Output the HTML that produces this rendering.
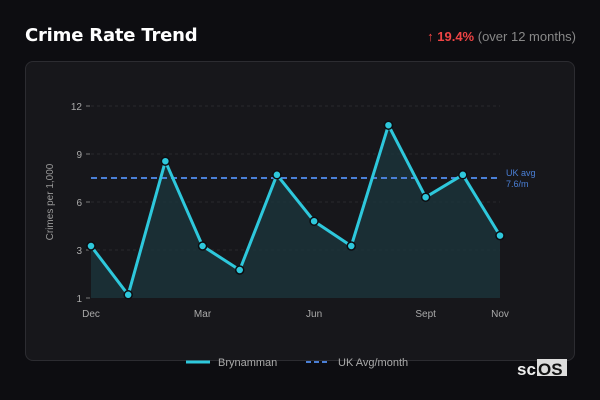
<!DOCTYPE html>
<html><head><meta charset="utf-8"><style>
body{margin:0;width:600px;height:400px;background:#0d0d11;font-family:"Liberation Sans",sans-serif;overflow:hidden;position:relative}
.t{position:absolute;left:25px;top:25px;color:#fff;font-size:18px;font-weight:bold;font-family:"DejaVu Sans",sans-serif;letter-spacing:-0.2px}
.ch{position:absolute;right:24px;top:29px;font-size:13px;color:#888}
.panel{position:absolute;left:25px;top:61px;width:550px;height:300px;border:1px solid #2c2c31;border-radius:8px;background:#17171b;box-sizing:border-box}
svg{position:absolute;left:0;top:0}
</style></head><body>
<div class="t">Crime Rate Trend</div>
<div class="ch"><span style="color:#ef4444;font-weight:bold">↑ 19.4%</span> (over 12 months)</div>
<div class="panel"></div>
<svg width="600" height="400" id="c"></svg>
<script>
const months=["Dec","Jan","Feb","Mar","Apr","May","Jun","Jul","Aug","Sept","Oct","Nov"];
const values=[3.25,0.2,8.55,3.25,1.75,7.7,4.8,3.25,10.8,6.3,7.7,3.9];
const ukAvg=[7.5];
const yTicks=[0,3,6,9,12];
const yTickLabels=["1","3","6","9","12"];
const xLabelIdx=[0,3,6,9,11];
const NS="http://www.w3.org/2000/svg";
const svg=document.getElementById('c');
const x=i=>91+i*(500-91)/(months.length-1);
const y=v=>298-v*16;
function el(t,a,txt){const e=document.createElementNS(NS,t);for(const k in a)e.setAttribute(k,a[k]);if(txt!==undefined)e.textContent=txt;svg.appendChild(e);return e;}
yTicks.forEach((v,i)=>{
 if(v>0){const g=el('line',{x1:91,x2:500,y1:y(v),y2:y(v),stroke:'#2a2a2e','stroke-dasharray':'3,3'});
 
 }
 const tk=el('line',{x1:86,x2:90,y1:y(v),y2:y(v),stroke:'#777'});
 
 
 const t=el('text',{x:82,y:y(v)+4,'text-anchor':'end',fill:'#aaa','font-size':10},yTickLabels[i]);
 
 
});
xLabelIdx.forEach(i=>{
 const t=el('text',{x:x(i),y:317,'text-anchor':'middle',fill:'#aaa','font-size':10},months[i]);
 
 
});
const yt=el('text',{x:0,y:0,transform:'translate(53,202) rotate(-90)','text-anchor':'middle',fill:'#999','font-size':10},'Crimes per 1,000');


let pts=values.map((v,i)=>x(i)+','+y(v)).join(' ');
const area=el('polygon',{points:x(0)+','+y(0)+' '+pts+' '+x(values.length-1)+','+y(0),fill:'#1b3238',opacity:0.85});


const av=el('line',{x1:91,x2:500,y1:y(ukAvg[0]),y2:y(ukAvg[0]),stroke:'#4a7fd6','stroke-width':2,'stroke-dasharray':'6,4'});


const al=el('text',{x:506,y:y(ukAvg[0])-2,fill:'#4a7fd6','font-size':9},'UK avg');


const al2=el('text',{x:506,y:y(ukAvg[0])+9,fill:'#4a7fd6','font-size':9},'7.6/m');


const ln=el('polyline',{points:pts,fill:'none',stroke:'#2ec8dc','stroke-width':3,'stroke-linejoin':'round'});


values.forEach((v,i)=>{
 const c=el('circle',{cx:x(i),cy:y(v),r:4,fill:'#2ec8dc',stroke:'#0d0d11','stroke-width':1.5});
 
 
});
const l1=el('line',{x1:186,x2:210,y1:362,y2:362,stroke:'#2ec8dc','stroke-width':3});


const lt1=el('text',{x:218,y:366,fill:'#aaa','font-size':11},'Brynamman');


const l2=el('line',{x1:306,x2:330,y1:362,y2:362,stroke:'#4a7fd6','stroke-width':2,'stroke-dasharray':'5,3'});


const lt2=el('text',{x:338,y:366,fill:'#aaa','font-size':11},'UK Avg/month');


const r=el('rect',{x:537,y:359,width:30,height:17,fill:'#ddd'});


const lg=el('text',{x:517,y:375,fill:'#eee','font-size':17,'font-weight':'bold'},'sc');


const lg2=el('text',{x:538,y:375,fill:'#111','font-size':17,'font-weight':'bold'},'OS');


</script>
</body></html>
